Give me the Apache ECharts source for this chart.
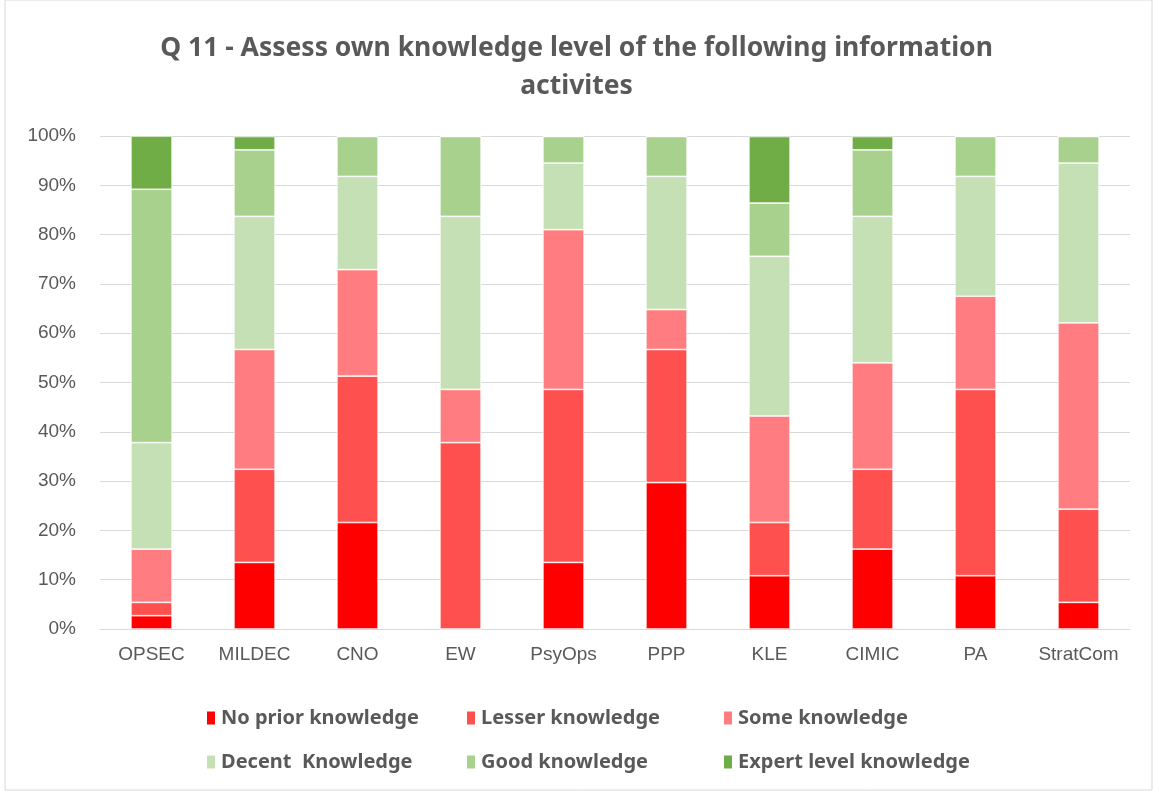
<!DOCTYPE html>
<html>
<head>
<meta charset="utf-8">
<script src="https://cdn.jsdelivr.net/npm/echarts@6/dist/echarts.min.js"></script>
<style>
  html, body { margin: 0; padding: 0; background: #fff; }
  #main { width: 1153px; height: 791px; }
</style>
</head>
<body>
<div id="main"></div>
<script>
// categories and percentage shares per knowledge level
var categories = ['OPSEC', 'MILDEC', 'CNO', 'EW', 'PsyOps', 'PPP', 'KLE', 'CIMIC', 'PA', 'StratCom'];
var noPrior  = [2.7, 13.5, 21.6, 0,    13.5, 29.7, 10.8, 16.2, 10.8, 5.4];
var lesser   = [2.7, 18.9, 29.7, 37.8, 35.1, 27.0, 10.8, 16.2, 37.8, 18.9];
var some     = [10.8, 24.3, 21.6, 10.8, 32.4, 8.1, 21.6, 21.6, 18.9, 37.8];
var decent   = [21.6, 27.0, 18.9, 35.1, 13.5, 27.0, 32.4, 29.7, 24.3, 32.4];
var good     = [51.4, 13.5, 8.1, 16.2, 5.4, 8.1, 10.8, 13.5, 8.1, 5.4];
var expert   = [10.8, 2.7, 0, 0, 0, 0, 13.5, 2.7, 0, 0];
var yTicks = [0, 10, 20, 30, 40, 50, 60, 70, 80, 90, 100];

var seriesNames = ['No prior knowledge', 'Lesser knowledge', 'Some knowledge',
                   'Decent  Knowledge', 'Good knowledge', 'Expert level knowledge'];
var seriesData = [noPrior, lesser, some, decent, good, expert];
var colors = ['#FF0000', '#FF5050', '#FF7C80', '#C5E0B4', '#A9D18E', '#70AD47'];

var chart = echarts.init(document.getElementById('main'));

var legendPos = [[200, 703], [460, 703], [717, 703], [200, 747], [460, 747], [717, 747]];
var legends = seriesNames.map(function (n, i) {
    return {
        data: [n],
        left: legendPos[i][0],
        top: legendPos[i][1],
        itemWidth: 10,
        itemHeight: 15,
        itemGap: 4,
        icon: 'rect',
        textStyle: { fontFamily: 'Noto Sans', fontWeight: 'bold', fontSize: 20, color: '#595959', padding: [0, 0, 0, 0] }
    };
});

var option = {
    color: colors,
    animation: false,
    title: {
        text: 'Q 11 - Assess own knowledge level of the following information\nactivites',
        left: 'center',
        top: 24,
        textStyle: { fontFamily: 'Noto Sans', fontWeight: 'bold', fontSize: 26.5, color: '#595959', lineHeight: 38 }
    },
    legend: legends,
    grid: { left: 100, right: 23, top: 136, bottom: 162, containLabel: false },
    xAxis: {
        type: 'category',
        data: categories,
        axisLine: { lineStyle: { color: '#D9D9D9', width: 1 } },
        axisTick: { show: false },
        axisLabel: { color: '#595959', fontSize: 19, fontFamily: 'Liberation Sans, Noto Sans', margin: 16, interval: 0 }
    },
    yAxis: {
        type: 'value',
        min: 0, max: 100, interval: 10,
        axisLine: { show: false },
        axisTick: { show: false },
        splitLine: { lineStyle: { color: '#D9D9D9', width: 1 } },
        axisLabel: {
            color: '#595959', fontSize: 19, fontFamily: 'Liberation Sans, Noto Sans', margin: 24,
            formatter: function (v) { return yTicks.indexOf(v) >= 0 ? v + '%' : ''; }
        }
    },
    series: seriesData.map(function (d, i) {
        return {
            name: seriesNames[i],
            type: 'bar',
            stack: 'total',
            barWidth: '40%',
            data: d,
            itemStyle: { color: colors[i], borderColor: '#fff', borderWidth: 0.7 }
        };
    }),
    graphic: [{
        type: 'rect',
        shape: { x: 5, y: 0, width: 1147, height: 790 },
        style: { fill: 'none', stroke: '#D9D9D9', lineWidth: 1 },
        silent: true
    }]
};

chart.setOption(option);
</script>
</body>
</html>
